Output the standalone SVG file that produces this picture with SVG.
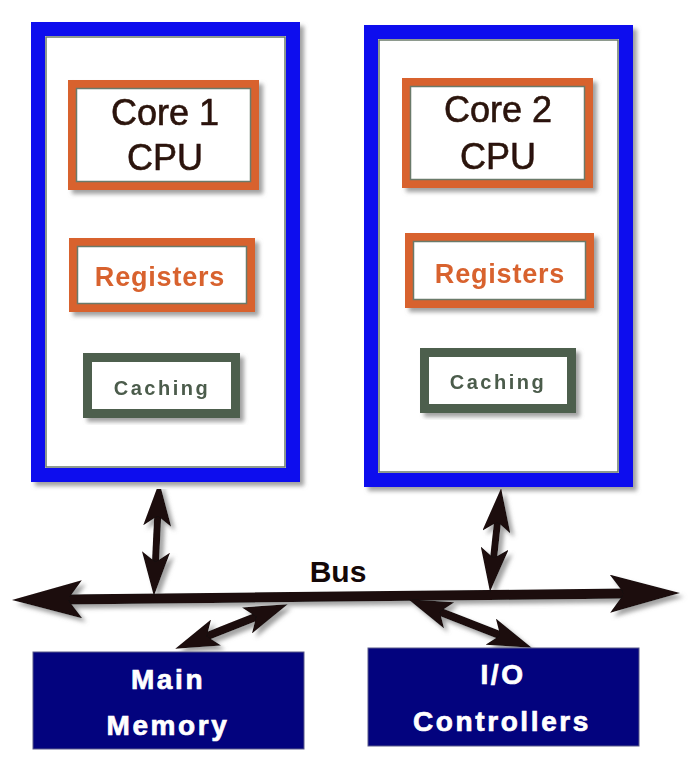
<svg xmlns="http://www.w3.org/2000/svg" width="692" height="770" viewBox="0 0 692 770">
<defs>
<filter id="sh" x="-20%" y="-20%" width="140%" height="140%">
<feDropShadow dx="4" dy="4" stdDeviation="2" flood-color="#8a8a8a" flood-opacity="0.8"/>
</filter>
<marker id="hs" viewBox="0 0 44 28" refX="12" refY="14" markerWidth="44" markerHeight="28" markerUnits="userSpaceOnUse" orient="auto-start-reverse">
<path d="M0,0 L44,14 L0,28 L10,14 Z" fill="#1a0a0a"/>
</marker>
<marker id="hb" viewBox="0 0 70 38" refX="16" refY="19" markerWidth="70" markerHeight="38" markerUnits="userSpaceOnUse" orient="auto-start-reverse">
<path d="M0,0 L70,19 L0,38 L14,19 Z" fill="#1a0a0a"/>
</marker>
</defs>
<style>
.core{fill:#fff;stroke:#0a0aee;stroke-width:14}
.bev{fill:none;stroke:#6a7a6a;stroke-width:1.5}
.cpu{fill:#fff;stroke:#d8622e;stroke-width:8}
.cache{fill:#fff;stroke:#4d5e4d;stroke-width:9}
.mem{fill:#03037e;stroke:#5a5a8a;stroke-width:1}
.tcpu{font-family:"Liberation Sans",Arial,sans-serif;font-size:36px;fill:#2a1208;stroke:#2a1208;stroke-width:0.6;text-anchor:middle}
.treg{font-family:"Liberation Sans",Arial,sans-serif;font-size:27px;font-weight:bold;fill:#d8622e;text-anchor:middle;letter-spacing:0.8px}
.tcache{font-family:"Liberation Sans",Arial,sans-serif;font-size:20px;font-weight:bold;fill:#4b5b4b;text-anchor:middle;letter-spacing:2.5px}
.tmem{font-family:"Liberation Sans",Arial,sans-serif;font-size:28px;font-weight:bold;fill:#fff;stroke:#fff;stroke-width:0.7;text-anchor:middle;letter-spacing:2.6px}
.tbus{font-family:"Liberation Sans",Arial,sans-serif;font-size:30px;font-weight:bold;fill:#140808;text-anchor:middle}
.conn{fill:none;stroke:#1a0a0a}
</style>

<g id="core1" filter="url(#sh)">
<rect class="core" x="38" y="29" width="255" height="446"/>
<rect class="bev" x="46" y="37" width="239" height="430"/>
</g>
<g id="core2" filter="url(#sh)">
<rect class="core" x="371" y="32" width="255" height="448"/>
<rect class="bev" x="379" y="40" width="239" height="432"/>
</g>

<g id="cpu1" filter="url(#sh)">
<rect class="cpu" x="72" y="84" width="183" height="102"/>
<rect class="bev" x="76.5" y="88.5" width="174" height="93"/>
<text class="tcpu" x="165" y="125">Core 1</text>
<text class="tcpu" x="165" y="170">CPU</text>
</g>
<g id="reg1" filter="url(#sh)">
<rect class="cpu" x="73" y="242" width="178" height="66"/>
<rect class="bev" x="77.5" y="246.5" width="169" height="57"/>
<text class="treg" x="160" y="286">Registers</text>
</g>
<g id="cache1" filter="url(#sh)">
<rect class="cache" x="87.5" y="357.5" width="148" height="56"/>
<text class="tcache" x="162" y="395">Caching</text>
</g>

<g id="cpu2" filter="url(#sh)">
<rect class="cpu" x="406" y="82" width="183" height="102"/>
<rect class="bev" x="410.5" y="86.5" width="174" height="93"/>
<text class="tcpu" x="498" y="122">Core 2</text>
<text class="tcpu" x="498" y="169">CPU</text>
</g>
<g id="reg2" filter="url(#sh)">
<rect class="cpu" x="409" y="237" width="181" height="67"/>
<rect class="bev" x="413.5" y="241.5" width="172" height="58"/>
<text class="treg" x="500" y="283">Registers</text>
</g>
<g id="cache2" filter="url(#sh)">
<rect class="cache" x="424.5" y="352.5" width="147" height="56"/>
<text class="tcache" x="498" y="389">Caching</text>
</g>

<g id="connectors" filter="url(#sh)">
<line class="conn" x1="66" y1="599.4" x2="626" y2="593.6" stroke-width="10" marker-start="url(#hb)" marker-end="url(#hb)"/>
<line class="conn" x1="157.8" y1="514" x2="155.4" y2="564" stroke-width="7" marker-start="url(#hs)" marker-end="url(#hs)"/>
<line class="conn" x1="497.7" y1="520" x2="493.4" y2="560" stroke-width="7" marker-start="url(#hs)" marker-end="url(#hs)"/>
<line class="conn" x1="258" y1="616" x2="205" y2="637" stroke-width="8" marker-start="url(#hs)" marker-end="url(#hs)"/>
<line class="conn" x1="438" y1="611" x2="502" y2="636" stroke-width="8" marker-start="url(#hs)" marker-end="url(#hs)"/>
</g>

<g id="bus-label">
<text class="tbus" x="338" y="582">Bus</text>
</g>

<g id="mainmem">
<rect class="mem" x="33" y="652" width="271" height="97"/>
<text class="tmem" x="168" y="689">Main</text>
<text class="tmem" x="168" y="735">Memory</text>
</g>
<g id="io">
<rect class="mem" x="368" y="648" width="271" height="98"/>
<text class="tmem" x="503" y="684">I/O</text>
<text class="tmem" x="502" y="731">Controllers</text>
</g>
</svg>
